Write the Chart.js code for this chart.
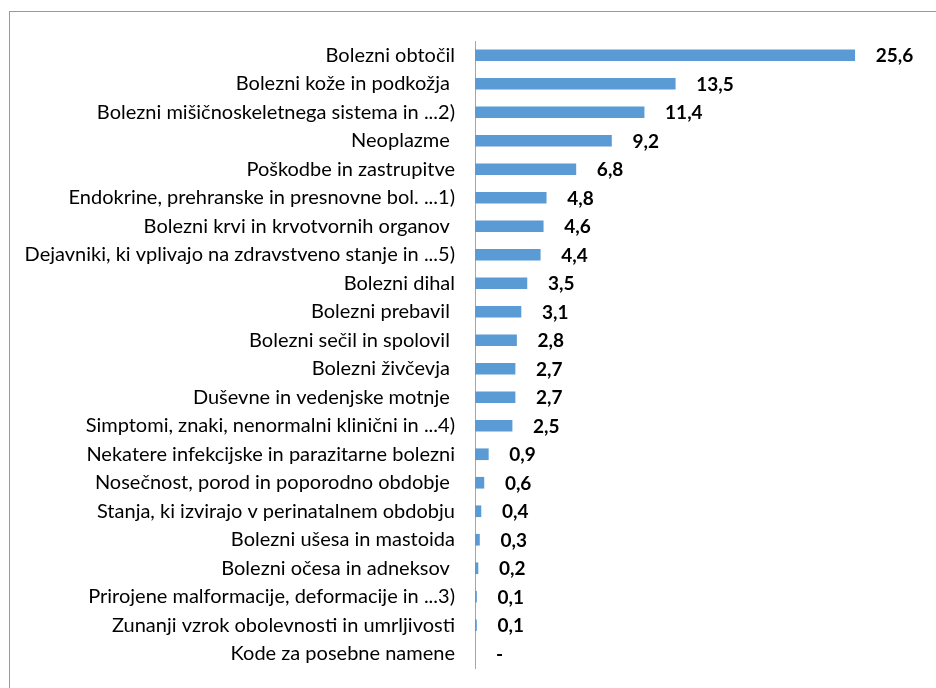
<!DOCTYPE html>
<html>
<head>
<meta charset="utf-8">
<script src="https://cdn.jsdelivr.net/npm/chart.js@4/dist/chart.umd.min.js"></script>
<style>
html,body{margin:0;padding:0;background:#fff;}
#wrap{width:936px;height:688px;position:relative;}
</style>
</head>
<body>
<div id="wrap"><canvas id="c" width="936" height="688"></canvas></div>
<script>
const categories = [
  "Bolezni obtočil",
  "Bolezni kože in podkožja ",
  "Bolezni mišičnoskeletnega sistema in ...2)",
  "Neoplazme ",
  "Poškodbe in zastrupitve",
  "Endokrine, prehranske in presnovne bol. ...1)",
  "Bolezni krvi in krvotvornih organov ",
  "Dejavniki, ki vplivajo na zdravstveno stanje in ...5)",
  "Bolezni dihal",
  "Bolezni prebavil ",
  "Bolezni sečil in spolovil ",
  "Bolezni živčevja ",
  "Duševne in vedenjske motnje ",
  "Simptomi, znaki, nenormalni klinični in ...4)",
  "Nekatere infekcijske in parazitarne bolezni",
  "Nosečnost, porod in poporodno obdobje ",
  "Stanja, ki izvirajo v perinatalnem obdobju",
  "Bolezni ušesa in mastoida",
  "Bolezni očesa in adneksov ",
  "Prirojene malformacije, deformacije in ...3)",
  "Zunanji vzrok obolevnosti in umrljivosti",
  "Kode za posebne namene"
];
const values = [25.6, 13.5, 11.4, 9.2, 6.8, 4.8, 4.6, 4.4, 3.5, 3.1, 2.8, 2.7, 2.7, 2.5, 0.9, 0.6, 0.4, 0.3, 0.2, 0.1, 0.1, null];
const axisMin = 0;
const axisMax = 30;

const FONT = "Lato, 'Noto Sans', sans-serif";

const frame = {
  id: 'frame',
  beforeDraw(chart) {
    const ctx = chart.ctx;
    ctx.save();
    ctx.strokeStyle = '#9a9a9a';
    ctx.lineWidth = 1;
    ctx.strokeRect(9.5, 11.5, 940, 700);
    ctx.restore();
  }
};

const valueLabels = {
  id: 'valueLabels',
  afterDatasetsDraw(chart) {
    const ctx = chart.ctx;
    const meta = chart.getDatasetMeta(0);
    const xs = chart.scales.x;
    ctx.save();
    ctx.font = "bold 19px " + FONT;
    ctx.fillStyle = '#000';
    ctx.textAlign = 'left';
    ctx.textBaseline = 'middle';
    meta.data.forEach((bar, i) => {
      const v = values[i];
      const txt = (v === null) ? '-' : v.toFixed(1).replace('.', ',');
      const x = (v === null ? xs.getPixelForValue(0) : bar.x) + 21;
      const y = chart.scales.y.getPixelForValue(i);
      ctx.fillText(txt, x, y + 1);
    });
    ctx.restore();
  }
};

new Chart(document.getElementById('c'), {
  type: 'bar',
  data: {
    labels: categories,
    datasets: [{
      data: values,
      backgroundColor: '#5b9bd5',
      borderWidth: 0,
      barThickness: 11
    }]
  },
  options: {
    indexAxis: 'y',
    responsive: false,
    animation: false,
    devicePixelRatio: 1,
    layout: { padding: { top: 41, bottom: 20, left: 0, right: 16 } },
    plugins: { legend: { display: false }, tooltip: { enabled: false } },
    scales: {
      x: { display: false, min: axisMin, max: axisMax },
      y: {
        grid: { display: false, drawTicks: false },
        border: { display: true, color: '#a6a6a6', width: 1 },
        ticks: { color: '#000', font: { family: FONT, size: 20 }, padding: 20, autoSkip: false },
        afterFit(scale) { scale.width = 475; scale.paddingTop = 0; scale.paddingBottom = 0; }
      }
    }
  },
  plugins: [frame, valueLabels]
});
</script>
</body>
</html>
